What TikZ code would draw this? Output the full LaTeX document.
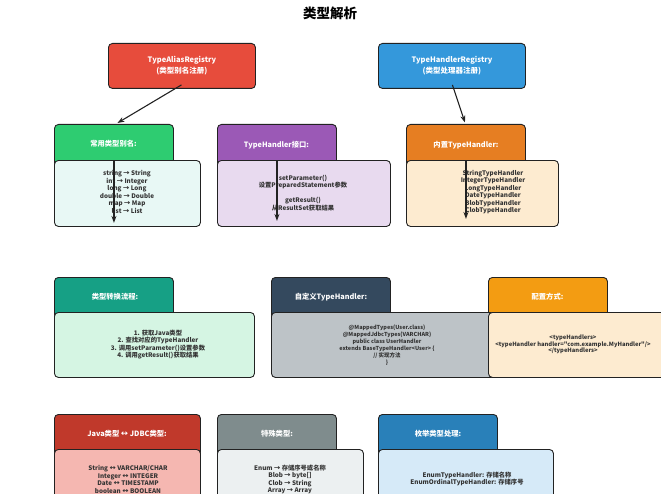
\documentclass[tikz,border=0pt]{standalone}
\usepackage{fontspec}
\setmainfont{Noto Sans CJK SC}[Ligatures=TeXOff]
\usetikzlibrary{arrows.meta}
\definecolor{cRed}{HTML}{E74C3C}
\definecolor{cBlue}{HTML}{3498DB}
\definecolor{cGreen}{HTML}{2ECC71}
\definecolor{cGreenL}{HTML}{E8F8F5}
\definecolor{cPurple}{HTML}{9B59B6}
\definecolor{cPurpleL}{HTML}{E8DAEF}
\definecolor{cOrange}{HTML}{E67E22}
\definecolor{cPeach}{HTML}{FDEBD0}
\definecolor{cTeal}{HTML}{16A085}
\definecolor{cMint}{HTML}{D5F5E3}
\definecolor{cNavy}{HTML}{34495E}
\definecolor{cGray}{HTML}{BDC3C7}
\definecolor{cYellow}{HTML}{F39C12}
\definecolor{cDRed}{HTML}{C0392B}
\definecolor{cPink}{HTML}{F5B7B1}
\definecolor{cSlate}{HTML}{7F8C8D}
\definecolor{cCloud}{HTML}{ECF0F1}
\definecolor{cDBlue}{HTML}{2980B9}
\definecolor{cSky}{HTML}{D6EAF8}
\definecolor{cEdge}{HTML}{222222}
\definecolor{cTxt}{HTML}{333333}
\begin{document}
\begin{tikzpicture}[x=1pt,y=-1pt,
  regbox/.style={draw=cEdge, line width=0.9pt, rounded corners=4pt, anchor=north west, inner sep=0pt,
     minimum width=147pt, minimum height=45pt, text=white, align=center,
     font=\bfseries\fontsize{7.5}{11}\selectfont},
  hdr/.style={draw=cEdge, line width=0.9pt, rounded corners=4pt, anchor=north west, inner sep=0pt,
     minimum width=119pt, minimum height=44pt},
  bodybox/.style={draw=cEdge, line width=0.9pt, rounded corners=4pt, anchor=north west, inner sep=0pt},
  htext/.style={text=white, inner sep=0pt, font=\bfseries\fontsize{7.3}{9}\selectfont},
  btext/.style={text=cTxt, inner sep=0pt, align=center, font=\bfseries\fontsize{6.3}{7.5}\selectfont},
  stext/.style={text=cTxt, inner sep=0pt, align=center, font=\bfseries\fontsize{5.5}{7}\selectfont},
  arr/.style={-{Stealth[length=7pt,width=5pt]}, line width=1.1pt, draw=cEdge}
]
\useasboundingbox (0,0) rectangle (661,500);
\clip (0,0) rectangle (661,493);

% title
\node[inner sep=0pt, font=\bfseries\fontsize{13.5}{15}\selectfont] (title) at (330,13) {类型解析};

% registries
\node[regbox, fill=cRed] (reg1) at (108,43) {TypeAliasRegistry\\(类型别名注册)};
\node[regbox, fill=cBlue] (reg2) at (378,43) {TypeHandlerRegistry\\(类型处理器注册)};

% ---- row 1 ----
\node[hdr, fill=cGreen] (h1) at (54,124) {};
\node[hdr, fill=cPurple] (h2) at (217,124) {};
\node[hdr, fill=cOrange] (h3) at (406,124) {};
\node[bodybox, fill=cGreenL, minimum width=146pt, minimum height=66pt] (b1) at (54,160) {};
\node[bodybox, fill=cPurpleL, minimum width=173pt, minimum height=66pt] (b2) at (217,160) {};
\node[bodybox, fill=cPeach, minimum width=152pt, minimum height=66pt] (b3) at (406,160) {};
\node[htext] (t1) at (113.5,144) {常用类型别名:};
\node[htext] (t2) at (276.5,145) {TypeHandler接口:};
\node[htext] (t3) at (466,145) {内置TypeHandler:};
\node[btext] (c1) at (127,192) {string → String\\int → Integer\\long → Long\\double → Double\\map → Map\\list → List};
\node[btext] (c2) at (303,193) {setParameter()\\设置PreparedStatement参数\\[7.5pt]getResult()\\从ResultSet获取结果};
\node[btext] (c3) at (493,192) {StringTypeHandler\\IntegerTypeHandler\\LongTypeHandler\\DateTypeHandler\\BlobTypeHandler\\ClobTypeHandler};

% ---- row 2 ----
\node[hdr, fill=cTeal] (h4) at (54,277) {};
\node[hdr, fill=cNavy] (h5) at (271,277) {};
\node[hdr, fill=cYellow] (h6) at (488,277) {};
\node[bodybox, fill=cMint, minimum width=200pt, minimum height=65pt] (b4) at (54,312) {};
\node[bodybox, fill=cGray, minimum width=230pt, minimum height=65pt] (b5) at (271,312) {};
\node[bodybox, fill=cPeach, minimum width=200pt, minimum height=65pt] (b6) at (488,312) {};
\node[htext] (t4) at (115,297) {类型转换流程:};
\node[htext] (t5) at (331,297) {自定义TypeHandler:};
\node[htext] (t6) at (547.5,297) {配置方式:};
\node[btext] (c4) at (158,344.5) {1. 获取Java类型\\2. 查找对应的TypeHandler\\3. 调用setParameter()设置参数\\4. 调用getResult()获取结果};
\node[stext] (c5) at (387,345) {@MappedTypes(User.class)\\@MappedJdbcTypes(VARCHAR)\\public class UserHandler\\extends BaseTypeHandler<User> \{\\// 实现方法\\\}};
\node[stext, font=\bfseries\fontsize{5.8}{6.6}\selectfont] (c6) at (573,344.5) {<typeHandlers>\\<typeHandler handler="com.example.MyHandler"/>\\</typeHandlers>};

% ---- row 3 ----
\node[hdr, fill=cDRed, minimum width=146pt] (h7) at (54,414) {};
\node[hdr, fill=cSlate] (h8) at (217,414) {};
\node[hdr, fill=cDBlue] (h9) at (378,414) {};
\node[bodybox, fill=cPink, minimum width=146pt, minimum height=70pt] (b7) at (54,449) {};
\node[bodybox, fill=cCloud, minimum width=146pt, minimum height=70pt] (b8) at (217,449) {};
\node[bodybox, fill=cSky, minimum width=175pt, minimum height=70pt] (b9) at (378,449) {};
\node[htext] (t7) at (127,434) {Java类型 ↔ JDBC类型:};
\node[htext] (t8) at (277,434) {特殊类型:};
\node[htext] (t9) at (438,434) {枚举类型处理:};
\node[btext] (c7) at (128,479.5) {String ↔ VARCHAR/CHAR\\Integer ↔ INTEGER\\Date ↔ TIMESTAMP\\boolean ↔ BOOLEAN};
\node[btext] (c8) at (290,479.5) {Enum → 存储序号或名称\\Blob → byte[]\\Clob → String\\Array → Array};
\node[btext] (c9) at (467,479) {EnumTypeHandler: 存储名称\\EnumOrdinalTypeHandler: 存储序号};

% ---- connectors ----
\draw[arr] ([xshift=-0.5pt,yshift=4pt]reg1.south) -- ([xshift=3.5pt,yshift=1pt]h1.north);
\draw[arr] ([xshift=0.5pt,yshift=4pt]reg2.south) -- ([xshift=-1pt,yshift=1.5pt]h3.north);
\draw[arr] (h1.south |- b1.north) -- ([yshift=4pt]h1.south |- b1.south);
\draw[arr] (h2.south |- b2.north) -- ([yshift=6pt]h2.south |- b2.south);
\draw[arr] (h3.south |- b3.north) -- ([yshift=8pt]h3.south |- b3.south);
\end{tikzpicture}
\end{document}
